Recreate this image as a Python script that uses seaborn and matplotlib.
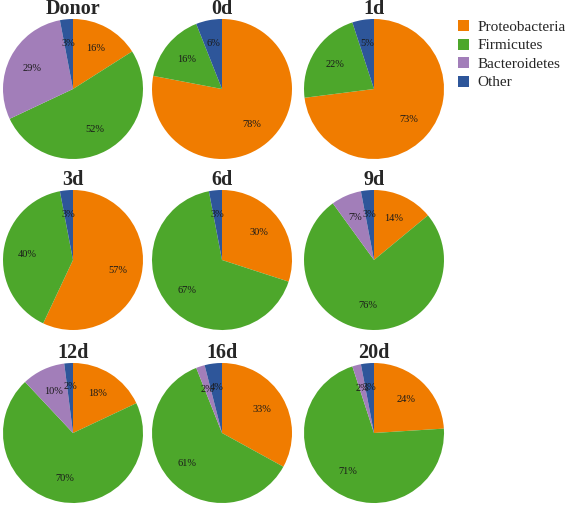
import seaborn as sns
import matplotlib.pyplot as plt
from matplotlib.patches import Patch

sns.set_theme(style="white")
plt.rcParams['font.family'] = ['Liberation Serif', 'DejaVu Serif']

phyla = ["Proteobacteria", "Firmicutes", "Bacteroidetes", "Other"]
colors = ["#F07C00", "#4DA72B", "#A27EB9", "#2E569A"]

samples = ["Donor", "0d", "1d", "3d", "6d", "9d", "12d", "16d", "20d"]
proteobacteria = [16, 78, 73, 57, 30, 14, 18, 33, 24]
firmicutes = [52, 16, 22, 40, 67, 76, 70, 61, 71]
bacteroidetes = [29, 0, 0, 0, 0, 7, 10, 2, 2]
other = [3, 6, 5, 3, 3, 3, 2, 4, 3]

W, H = 567, 505
fig = plt.figure(figsize=(W / 100, H / 100), dpi=100)

# pie centres in pixels
cx = [73, 222, 374]
cy = [89, 260, 433]
r = 70

for i, name in enumerate(samples):
    row, col = divmod(i, 3)
    x0 = (cx[col] - r) / W
    y0 = 1 - (cy[row] + r) / H
    ax = fig.add_axes([x0, y0, 2 * r / W, 2 * r / H])
    vals = [proteobacteria[i], firmicutes[i], bacteroidetes[i], other[i]]
    ax.pie(vals, colors=colors, startangle=90, counterclock=False,
           autopct=lambda p: f"{p:.0f}%" if p > 0.5 else "",
           pctdistance=0.66, radius=1.0,
           textprops=dict(fontsize=7.5, color="#1a1a1a"),
           wedgeprops=dict(linewidth=0))
    ax.set_xlim(-1.0, 1.0)
    ax.set_ylim(-1.0, 1.0)
    ax.set_aspect("equal")
    ax.axis("off")
    fig.text(cx[col] / W, 1 - (cy[row] - r - 5) / H, name,
             ha="center", va="baseline", fontsize=14.5, fontweight="bold")

handles = [Patch(facecolor=c, edgecolor="none") for c in colors]
fig.legend(handles, phyla, loc="upper left",
           bbox_to_anchor=(458 / W, 1 - 20 / H), frameon=False,
           fontsize=11, handlelength=0.75, handleheight=0.75,
           handletextpad=0.5, labelspacing=0.3, borderaxespad=0,
           borderpad=0)

fig.savefig("out.png", dpi=100)
